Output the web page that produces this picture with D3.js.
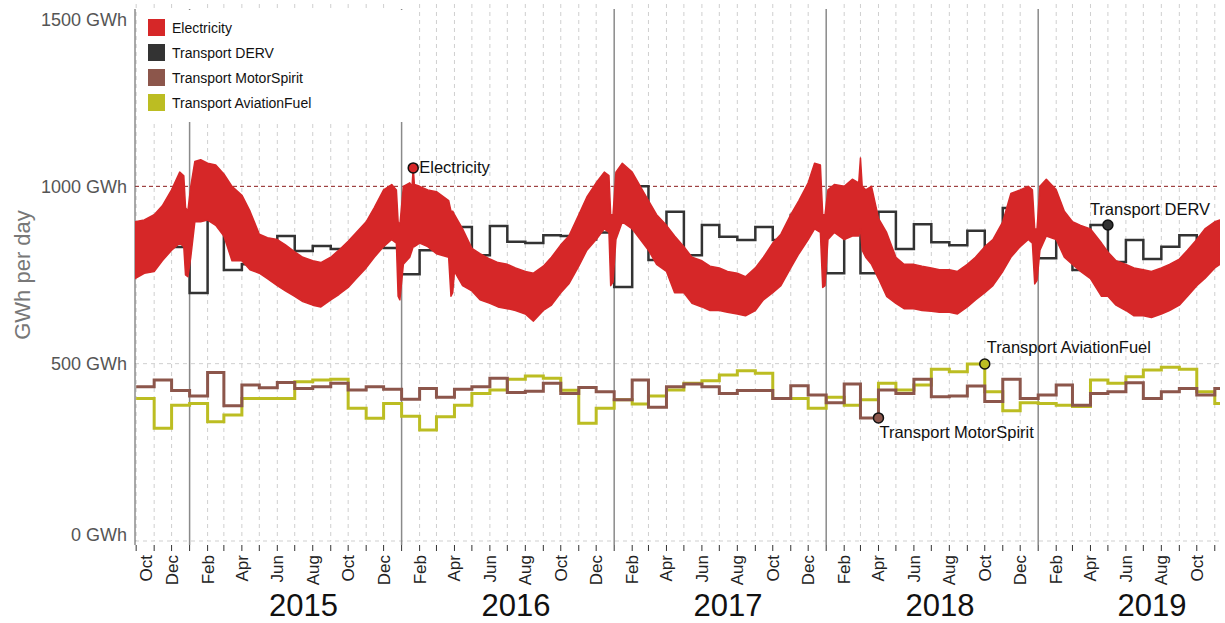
<!DOCTYPE html>
<html>
<head>
<meta charset="utf-8">
<script src="https://cdn.jsdelivr.net/npm/d3@7"></script>
<style>
  body { margin: 0; background: #fff; }
  svg { font-family: Helvetica, Arial, "Liberation Sans", sans-serif; }
</style>
</head>
<body>
<div id="chart"></div>
<script>
const width = 1225,
  height = 623,
  plotLeft = 135,
  plotRight = 1220,
  plotTop = 9,
  plotBottom = 541;

// monthly series, first value = Oct 2014, last = Nov 2019
const firstMonth = '2014-10-01';
const dervValues = [840, 835, 829,
  699, 903, 764, 780, 790, 860, 818, 832, 823, 830, 885, 826,
  752, 820, 845, 885, 806, 888, 844, 840, 862, 860, 850, 870,
  716, 1000, 792, 928, 806, 891, 858, 849, 885, 849, 919, 900,
  755, 925, 755, 928, 823, 893, 842, 834, 875, 780, 939, 875,
  797, 880, 764, 891, 787, 849, 795, 830, 862, 800, 800];
const motorValues = [435, 454, 424,
  409, 475, 381, 440, 432, 447, 430, 435, 445, 426, 435, 428,
  400, 430, 405, 428, 435, 459, 419, 422, 445, 416, 433, 421,
  398, 454, 377, 435, 443, 435, 416, 424, 424, 402, 438, 412,
  390, 443, 347, 426, 416, 456, 407, 409, 437, 393, 456, 402,
  412, 440, 383, 416, 421, 446, 402, 421, 430, 412, 430];
const aviationValues = [402, 318, 383,
  388, 336, 355, 402, 402, 402, 449, 454, 456, 374, 346, 388,
  352, 313, 350, 383, 416, 426, 456, 465, 459, 425, 332, 374,
  398, 386, 409, 426, 445, 452, 468, 480, 473, 402, 402, 374,
  405, 383, 398, 445, 426, 440, 484, 477, 499, 421, 367, 390,
  388, 383, 379, 454, 445, 463, 482, 490, 484, 421, 388];

// electricity: the daily band read as an upper / lower envelope
const elecDates = [
  '2014-09-29', '2014-10-15', '2014-11-01', '2014-11-15', '2014-12-01', '2014-12-15', '2014-12-22', '2014-12-25', '2014-12-29',
  '2015-01-03', '2015-01-10', '2015-01-20', '2015-02-01', '2015-02-15', '2015-03-01', '2015-03-15', '2015-04-01', '2015-04-15',
  '2015-05-01', '2015-05-15', '2015-06-01', '2015-06-15', '2015-07-01', '2015-07-15', '2015-08-01', '2015-08-15',
  '2015-09-01', '2015-09-15', '2015-10-01', '2015-10-15', '2015-11-01', '2015-11-15', '2015-12-01', '2015-12-15',
  '2015-12-23', '2015-12-26', '2015-12-29',
  '2016-01-04', '2016-01-15', '2016-01-19', '2016-01-21', '2016-01-23', '2016-02-01', '2016-02-15', '2016-03-01',
  '2016-03-22', '2016-03-26', '2016-03-29', '2016-04-01', '2016-04-15', '2016-05-01', '2016-05-15', '2016-06-01', '2016-06-15',
  '2016-07-01', '2016-07-15', '2016-08-01', '2016-08-15', '2016-09-01', '2016-09-15', '2016-10-01', '2016-10-15',
  '2016-11-01', '2016-11-15', '2016-12-01', '2016-12-15', '2016-12-23', '2016-12-26', '2016-12-30',
  '2017-01-04', '2017-01-15', '2017-02-01', '2017-02-15', '2017-03-01', '2017-03-15', '2017-04-01', '2017-04-15',
  '2017-05-01', '2017-05-15', '2017-06-01', '2017-06-15', '2017-07-01', '2017-07-15', '2017-08-01', '2017-08-15',
  '2017-09-01', '2017-09-15', '2017-10-01', '2017-10-15', '2017-11-01', '2017-11-15', '2017-12-01', '2017-12-12',
  '2017-12-22', '2017-12-26', '2017-12-30',
  '2018-01-04', '2018-01-15', '2018-02-01', '2018-02-15', '2018-02-26', '2018-03-01', '2018-03-04', '2018-03-10', '2018-03-20',
  '2018-04-01', '2018-04-15', '2018-05-01', '2018-05-15', '2018-06-01', '2018-06-15', '2018-07-01', '2018-07-15',
  '2018-08-01', '2018-08-15', '2018-09-01', '2018-09-15', '2018-10-01', '2018-10-15', '2018-11-01', '2018-11-15',
  '2018-12-01', '2018-12-15', '2018-12-22', '2018-12-26', '2018-12-30',
  '2019-01-04', '2019-01-15', '2019-02-01', '2019-02-15', '2019-03-01', '2019-03-15', '2019-04-01', '2019-04-20',
  '2019-05-01', '2019-05-15', '2019-06-01', '2019-06-15', '2019-07-01', '2019-07-15', '2019-08-01', '2019-08-15',
  '2019-09-01', '2019-09-15', '2019-10-01', '2019-10-15', '2019-11-01', '2019-11-10'];
const elecHigh = [
  900, 905, 920, 945, 990, 1040, 1030, 940, 930,
  1000, 1070, 1075, 1065, 1060, 1035, 1000, 975, 930,
  865, 855, 850, 835, 815, 800, 790, 785,
  800, 820, 845, 870, 900, 940, 990, 1005,
  990, 900, 890,
  1000, 1010, 1000, 1052, 1005, 1000, 990, 985,
  960, 930, 930, 920, 880, 825, 810, 795, 785,
  780, 770, 760, 755, 775, 800, 835, 860,
  920, 970, 1010, 1040, 1030, 920, 920,
  1040, 1065, 1040, 1000, 960, 920, 890, 860,
  830, 800, 790, 775, 770, 760, 755, 745,
  770, 800, 840, 865, 920, 960, 1010, 1065,
  1060, 920, 920,
  990, 1005, 1000, 1020, 1010, 1080, 1000, 990, 1000,
  910, 870, 800, 780, 780, 775, 770, 765,
  765, 760, 780, 800, 830, 850, 900, 980,
  990, 1000, 990, 880, 880,
  1000, 1020, 990, 930, 900, 890, 880, 840,
  815, 790, 780, 770, 765, 760, 770, 780,
  795, 820, 850, 880, 900, 905];
const elecLow = [
  740, 755, 760, 790, 820, 840, 830, 750, 745,
  800, 900, 900, 905, 890, 860, 790, 790, 765,
  755, 740, 720, 705, 690, 675, 665, 660,
  680, 695, 715, 740, 770, 800, 830, 850,
  840, 690, 680,
  780, 800, 820, 830, 830, 840, 830, 810,
  800, 690, 700, 760, 720, 705, 680, 670, 660,
  655, 650, 640, 620, 650, 665, 700, 725,
  775, 820, 850, 880, 870, 720, 730,
  850, 900, 880, 850, 820, 780, 760, 700,
  700, 670, 660, 650, 650, 645, 640, 635,
  650, 680, 700, 720, 770, 810, 850, 880,
  870, 715, 720,
  850, 870, 850, 860, 860, 880, 820, 800, 780,
  740, 690, 670, 655, 655, 650, 648, 645,
  645, 640, 660, 680, 700, 720, 760, 800,
  830, 850, 840, 725, 735,
  820, 860, 850, 800, 780, 760, 740, 690,
  690, 665, 650, 635, 635, 630, 640, 650,
  665, 690, 720, 740, 770, 780];

const yTicks = [0, 500, 1000, 1500];
const legendNames = ['Electricity', 'Transport DERV', 'Transport MotorSpirit', 'Transport AviationFuel'];
const noteNames = ['Electricity', 'Transport DERV', 'Transport AviationFuel', 'Transport MotorSpirit'];
const noteDates = ['2016-01-21', '2019-05-01', '2018-10-01', '2018-04-01'];
const noteValues = [1052, 891, 499, 347];

const colors = {
  'Electricity': '#d62728',
  'Transport DERV': '#333333',
  'Transport MotorSpirit': '#8c564b',
  'Transport AviationFuel': '#bcbd22'
};
// label offsets from the marker
const noteOffsets = {
  'Electricity': [6, 5],
  'Transport DERV': [-18, -10],
  'Transport AviationFuel': [2, -11],
  'Transport MotorSpirit': [1, 20]
};

const parse = d3.timeParse('%Y-%m-%d');
const startDate = parse('2014-09-29'),
  endDate = parse('2019-11-10');

const x = d3.scaleTime().domain([startDate, endDate]).range([plotLeft, plotRight]);
const y = d3.scaleLinear().domain([0, 1500]).range([plotBottom, plotTop]);

const svg = d3.select('#chart').append('svg')
  .attr('width', width)
  .attr('height', height);

svg.append('clipPath').attr('id', 'plot')
  .append('rect')
  .attr('x', plotLeft).attr('y', 0)
  .attr('width', plotRight - plotLeft).attr('height', plotBottom + 5);

const months = d3.timeMonth.range(parse(firstMonth), d3.timeMonth.offset(parse(firstMonth), dervValues.length));
const allMonths = d3.timeMonth.range(d3.timeMonth.ceil(startDate), endDate);
const years = d3.timeYear.range(d3.timeYear.ceil(startDate), endDate);

// monthly dashed grid
svg.append('g')
  .selectAll('line')
  .data(allMonths.filter(d => d.getMonth() !== 0))
  .enter().append('line')
  .attr('x1', d => x(d)).attr('x2', d => x(d))
  .attr('y1', 4).attr('y2', plotBottom)
  .attr('stroke', '#cfcfcf')
  .attr('stroke-dasharray', '4,4');

// horizontal grid
svg.append('g')
  .selectAll('line')
  .data(yTicks.filter(d => d !== 1500))
  .enter().append('line')
  .attr('x1', plotLeft).attr('x2', plotRight)
  .attr('y1', d => y(d)).attr('y2', d => y(d))
  .attr('stroke', d => d === 1000 ? '#8b1c1c' : '#cfcfcf')
  .attr('stroke-dasharray', d => d === 1000 ? '4,3' : '4,4');

// year lines
svg.append('g')
  .selectAll('line')
  .data(years)
  .enter().append('line')
  .attr('x1', d => x(d)).attr('x2', d => x(d))
  .attr('y1', plotTop).attr('y2', plotBottom + 4)
  .attr('stroke', '#8a8a8a')
  .attr('stroke-width', 1.5);

// left axis line
svg.append('line')
  .attr('x1', plotLeft).attr('x2', plotLeft)
  .attr('y1', plotTop).attr('y2', plotBottom + 4)
  .attr('stroke', '#555');

// legend background hides grid
svg.append('rect')
  .attr('x', plotLeft + 2).attr('y', 10)
  .attr('width', 268).attr('height', 112)
  .attr('fill', '#fff');

function monthly(values) {
  const pts = values.map((v, i) => ({ date: months[i], value: v }));
  pts.push({ date: endDate, value: values[values.length - 1] });
  return pts;
}

const stepLine = d3.line()
  .x(d => x(d.date))
  .y(d => y(d.value))
  .curve(d3.curveStepAfter);

const plot = svg.append('g').attr('clip-path', 'url(#plot)');

plot.append('path')
  .datum(monthly(dervValues))
  .attr('d', stepLine)
  .attr('fill', 'none')
  .attr('stroke', colors['Transport DERV'])
  .attr('stroke-width', 2.5);

plot.append('path')
  .datum(monthly(aviationValues))
  .attr('d', stepLine)
  .attr('fill', 'none')
  .attr('stroke', colors['Transport AviationFuel'])
  .attr('stroke-width', 3);

plot.append('path')
  .datum(monthly(motorValues))
  .attr('d', stepLine)
  .attr('fill', 'none')
  .attr('stroke', colors['Transport MotorSpirit'])
  .attr('stroke-width', 3);

const elec = elecDates.map((d, i) => ({ date: parse(d), hi: elecHigh[i], lo: elecLow[i] }));

plot.append('path')
  .datum(elec)
  .attr('d', d3.area()
    .x(d => x(d.date))
    .y0(d => y(d.lo))
    .y1(d => y(d.hi)))
  .attr('fill', colors['Electricity'])
  .attr('stroke', colors['Electricity'])
  .attr('stroke-width', 1.5)
  .attr('stroke-linejoin', 'round');

// annotations
const notes = svg.append('g')
  .selectAll('g')
  .data(noteNames.map((n, i) => ({ name: n, date: parse(noteDates[i]), value: noteValues[i] })))
  .enter().append('g')
  .attr('transform', d => 'translate(' + x(d.date) + ',' + y(d.value) + ')');

notes.append('circle')
  .attr('r', 5)
  .attr('fill', d => colors[d.name])
  .attr('stroke', '#111')
  .attr('stroke-width', 1.5);

notes.append('text')
  .attr('x', d => noteOffsets[d.name][0])
  .attr('y', d => noteOffsets[d.name][1])
  .attr('font-size', 16.5)
  .attr('fill', '#111')
  .text(d => d.name);

// legend
const legend = svg.append('g')
  .selectAll('g')
  .data(legendNames)
  .enter().append('g')
  .attr('transform', (d, i) => 'translate(148,' + (19 + i * 25) + ')');

legend.append('rect')
  .attr('width', 17).attr('height', 17)
  .attr('fill', d => colors[d]);

legend.append('text')
  .attr('x', 24).attr('y', 13.5)
  .attr('font-size', 14)
  .attr('fill', '#111')
  .text(d => d);

// y labels
svg.append('g')
  .selectAll('text')
  .data(yTicks)
  .enter().append('text')
  .attr('x', plotLeft - 8)
  .attr('y', d => Math.min(Math.max(y(d), plotTop + 11), plotBottom - 6))
  .attr('dy', '0.35em')
  .attr('text-anchor', 'end')
  .attr('font-size', 18)
  .attr('fill', '#555')
  .text(d => d + ' GWh');

svg.append('text')
  .attr('transform', 'translate(30,' + ((plotTop + plotBottom) / 2) + ') rotate(-90)')
  .attr('text-anchor', 'middle')
  .attr('font-size', 22)
  .attr('fill', '#777')
  .text('GWh per day');

// x ticks and month labels
svg.append('g')
  .selectAll('line')
  .data(allMonths)
  .enter().append('line')
  .attr('x1', d => x(d)).attr('x2', d => x(d))
  .attr('y1', plotBottom + 4).attr('y2', plotBottom + 10)
  .attr('stroke', '#333');

const fmtMonth = d3.timeFormat('%b');
svg.append('g')
  .selectAll('text')
  .data(allMonths.filter(d => d.getMonth() % 2 === 1))
  .enter().append('text')
  .attr('transform', d => 'translate(' + Math.max(x(d), plotLeft + 11) + ',' + (plotBottom + 14) + ') rotate(-90)')
  .attr('dy', '0.35em')
  .attr('text-anchor', 'end')
  .attr('font-size', 17)
  .attr('fill', '#222')
  .text(fmtMonth);

svg.append('g')
  .selectAll('text')
  .data(years)
  .enter().append('text')
  .attr('x', d => x(new Date(d.getFullYear(), 6, 16)))
  .attr('y', 616)
  .attr('text-anchor', 'middle')
  .attr('font-size', 31)
  .attr('fill', '#111')
  .text(d => d.getFullYear());
</script>
</body>
</html>
